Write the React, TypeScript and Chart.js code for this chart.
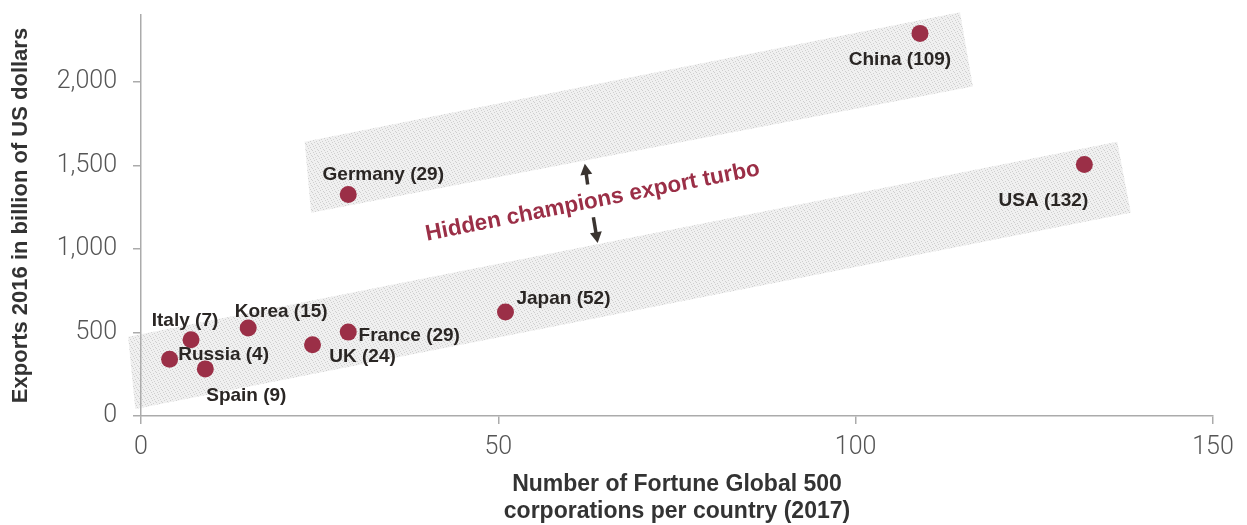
import React, { useEffect, useRef } from 'react';
import { Chart, registerables } from 'chart.js';

Chart.register(...registerables);

// ---- data ----
const countries = ['China', 'USA', 'Germany', 'Japan', 'France', 'UK', 'Korea', 'Italy', 'Russia', 'Spain'];
const fortune500Count = [109, 132, 29, 51, 29, 24, 15, 7, 4, 9];
const exports2016 = [2290, 1505, 1325, 623, 502, 426, 527, 456, 340, 282];
const labelCounts = [109, 132, 29, 52, 29, 24, 15, 7, 4, 9];
const xTickValues = [0, 50, 100, 150];
const yTickValues = [0, 500, 1000, 1500, 2000];

// shaded bands (data coordinates)
const upperBand = [[22.9, 1642], [114.6, 2416], [116.4, 1972], [23.8, 1217]];
const lowerBand = [[-1.8, 474], [136.6, 1642], [138.5, 1217], [-0.8, 42]];
const annotationText = 'Hidden champions export turbo';
const annotationAnchor = [63.2, 1283];
const arrowUp = [[62.5, 1385], [62.1, 1510]];
const arrowDown = [[63.3, 1190], [63.9, 1035]];

// label placement (pixel offsets from the point, label centre)
const labelOffsets = [
  [-20, 26], [-41, 36], [35, -20], [58, -13], [61, 4],
  [50, 12], [33, -16], [-6, -19], [54, -4], [41, 27],
];

const FONT = "'Liberation Sans', Arial, Helvetica, sans-serif";
const TICK_FONT = "Roboto, 'Liberation Sans', Arial, sans-serif";
const MAROON = '#9b2f47';
const AXIS = '#ababab';

function makePattern(ctx: CanvasRenderingContext2D) {
  const c = document.createElement('canvas');
  c.width = 6;
  c.height = 6;
  const p = c.getContext('2d')!;
  p.fillStyle = '#f0f0f0';
  p.fillRect(0, 0, 6, 6);
  p.fillStyle = '#cfcfcf';
  const dots = [[0, 0], [3, 1], [1, 2], [4, 3], [2, 4], [5, 5]];
  dots.forEach(([dx, dy]) => p.fillRect(dx, dy, 1, 1));
  return ctx.createPattern(c, 'repeat')!;
}

const overlayPlugin = {
  id: 'overlay',
  beforeDraw(chart: any) {
    const { ctx, scales } = chart;
    const xs = scales.x;
    const ys = scales.y;
    const pattern = makePattern(ctx);
    [upperBand, lowerBand].forEach((band) => {
      ctx.save();
      ctx.beginPath();
      band.forEach(([bx, by], i) => {
        const px = xs.getPixelForValue(bx);
        const py = ys.getPixelForValue(by);
        if (i === 0) ctx.moveTo(px, py);
        else ctx.lineTo(px, py);
      });
      ctx.closePath();
      ctx.fillStyle = pattern;
      ctx.fill();
      ctx.restore();
    });
  },
  afterDatasetsDraw(chart: any) {
    const { ctx, scales } = chart;
    const xs = scales.x;
    const ys = scales.y;
    const meta = chart.getDatasetMeta(0);

    // point labels
    ctx.save();
    ctx.font = `bold 19px ${FONT}`;
    ctx.fillStyle = '#2a2624';
    ctx.textAlign = 'center';
    ctx.textBaseline = 'middle';
    meta.data.forEach((pt: any, i: number) => {
      const [dx, dy] = labelOffsets[i];
      ctx.fillText(`${countries[i]} (${labelCounts[i]})`, pt.x + dx, pt.y + dy);
    });
    ctx.restore();

    // annotation text, rotated along the bands
    const a0x = xs.getPixelForValue(lowerBand[0][0]);
    const a0y = ys.getPixelForValue(lowerBand[0][1]);
    const a1x = xs.getPixelForValue(lowerBand[1][0]);
    const a1y = ys.getPixelForValue(lowerBand[1][1]);
    const angle = Math.atan2(a1y - a0y, a1x - a0x);
    ctx.save();
    ctx.translate(xs.getPixelForValue(annotationAnchor[0]), ys.getPixelForValue(annotationAnchor[1]));
    ctx.rotate(angle);
    ctx.font = `bold 22.5px ${FONT}`;
    ctx.fillStyle = MAROON;
    ctx.textAlign = 'center';
    ctx.textBaseline = 'middle';
    ctx.fillText(annotationText, 0, 0);
    ctx.restore();

    // arrows
    const drawArrow = (seg: number[][]) => {
      const tx = xs.getPixelForValue(seg[0][0]);
      const ty = ys.getPixelForValue(seg[0][1]);
      const hx = xs.getPixelForValue(seg[1][0]);
      const hy = ys.getPixelForValue(seg[1][1]);
      const ang = Math.atan2(hy - ty, hx - tx);
      const headLen = 11;
      const headHalf = 6;
      const bx = hx - headLen * Math.cos(ang);
      const by = hy - headLen * Math.sin(ang);
      ctx.save();
      ctx.strokeStyle = '#3a3430';
      ctx.fillStyle = '#3a3430';
      ctx.lineWidth = 3.5;
      ctx.beginPath();
      ctx.moveTo(tx, ty);
      ctx.lineTo(bx + 1 * Math.cos(ang), by + 1 * Math.sin(ang));
      ctx.stroke();
      ctx.beginPath();
      ctx.moveTo(hx, hy);
      ctx.lineTo(bx + headHalf * Math.sin(ang), by - headHalf * Math.cos(ang));
      ctx.lineTo(bx - headHalf * Math.sin(ang), by + headHalf * Math.cos(ang));
      ctx.closePath();
      ctx.fill();
      ctx.restore();
    };
    drawArrow(arrowUp);
    drawArrow(arrowDown);
  },
};

export default function App() {
  const canvasRef = useRef<HTMLCanvasElement | null>(null);

  useEffect(() => {
    document.body.style.margin = '0';
    const canvas = canvasRef.current;
    if (!canvas) return;
    const chart = new Chart(canvas, {
      type: 'scatter',
      data: {
        datasets: [
          {
            label: 'Exports 2016',
            data: fortune500Count.map((c, i) => ({ x: c, y: exports2016[i] })),
            backgroundColor: MAROON,
            borderWidth: 0,
            pointRadius: 8.5,
            pointHoverRadius: 8.5,
          },
        ],
      },
      options: {
        animation: false,
        responsive: true,
        maintainAspectRatio: false,
        layout: { padding: { top: 15, right: 34, left: 0, bottom: 0 } },
        plugins: {
          legend: { display: false },
          tooltip: { enabled: false },
        },
        scales: {
          x: {
            type: 'linear',
            min: 0,
            max: 150,
            afterBuildTicks: (scale: any) => {
              scale.ticks = xTickValues.map((v) => ({ value: v }));
            },
            afterFit: (scale: any) => {
              scale.height = 109;
              scale.paddingLeft = 0;
              scale.paddingRight = 0;
            },
            grid: { drawOnChartArea: false, drawTicks: true, tickLength: 8, color: AXIS, lineWidth: 1.5 },
            border: { display: true, color: AXIS, width: 1.5 },
            ticks: {
              padding: 9,
              color: '#555555',
              font: { family: TICK_FONT, size: 25, weight: '300' },
              callback: (v: any) => String(v),
            },
            title: {
              display: true,
              text: ['Number of Fortune Global 500', 'corporations per country (2017)'],
              color: '#333333',
              font: { family: FONT, size: 23, weight: 'bold', lineHeight: 1.18 },
              padding: { top: 0, bottom: 0 },
            },
          },
          y: {
            type: 'linear',
            min: 0,
            max: 2400,
            afterBuildTicks: (scale: any) => {
              scale.ticks = yTickValues.map((v) => ({ value: v }));
            },
            afterFit: (scale: any) => {
              scale.width = 141;
              scale.paddingTop = 0;
              scale.paddingBottom = 0;
            },
            grid: { drawOnChartArea: false, drawTicks: true, tickLength: 8, color: AXIS, lineWidth: 1.5 },
            border: { display: true, color: AXIS, width: 1.5 },
            ticks: {
              padding: 16,
              color: '#555555',
              font: { family: TICK_FONT, size: 25, weight: '300' },
              callback: (v: any) => Number(v).toLocaleString('en-US'),
            },
            title: {
              display: true,
              text: 'Exports 2016 in billion of US dollars',
              color: '#333333',
              font: { family: FONT, size: 22, weight: 'bold' },
              padding: { top: 8, bottom: 0 },
            },
          },
        },
      },
      plugins: [overlayPlugin],
    });
    return () => chart.destroy();
  }, []);

  return (
    <div style={{ position: 'relative', width: '1247px', height: '525px' }}>
      <canvas ref={canvasRef} />
    </div>
  );
}
